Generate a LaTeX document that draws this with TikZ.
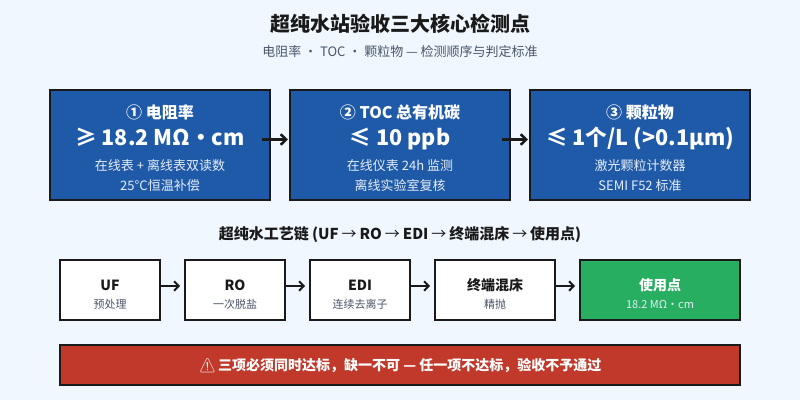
\documentclass[tikz,border=0pt]{standalone}
\usepackage{fontspec}
\setmainfont{Noto Sans CJK SC}
\newfontfamily\warnfont{Noto Emoji}
\usetikzlibrary{arrows.meta}
\definecolor{bgc}{HTML}{F0F7FF}
\definecolor{inkc}{HTML}{1A1A1A}
\definecolor{subc}{HTML}{4A5568}
\definecolor{bluec}{HTML}{1F5AA8}
\definecolor{greenc}{HTML}{27AE60}
\definecolor{redc}{HTML}{C0392B}
\definecolor{palec}{HTML}{E6EEF8}
\tikzset{
  card/.style={draw=inkc,line width=2pt,fill=bluec,minimum width=220pt,minimum height=110pt,inner sep=0pt,outer sep=0pt,anchor=north west},
  stage/.style={draw=inkc,line width=2pt,fill=white,minimum height=60pt,inner sep=0pt,outer sep=0pt,anchor=north west},
  lab/.style={inner sep=0pt,outer sep=0pt,anchor=base},
  bigarrow/.style={draw=inkc,line width=2.5pt,-{Straight Barb[length=5.5pt,width=10.5pt,line width=2.5pt]}},
  smallarrow/.style={draw=inkc,line width=2pt,-{Straight Barb[length=4.5pt,width=9.5pt,line width=2pt]}},
}
\newcommand{\fs}[1]{\fontsize{#1}{#1}\selectfont}
\newcommand{\thinarrow}{{\mdseries\kern-.5pt→\kern-.5pt}}
\begin{document}
\begin{tikzpicture}[x=1pt,y=-1pt]
\useasboundingbox (0,0) rectangle (800,400);
\fill[bgc] (0,0) rectangle (800,400);
\node[lab,text=inkc,font=\fs{20}\bfseries] (title) at (400,31) {超纯水站验收三大核心检测点};
\node[lab,text=subc,font=\fs{13}] (subtitle) at (400,56) {电阻率 ・ TOC ・ 颗粒物 — 检测顺序与判定标准};

\node[card] (c1) at (50,90) {};
\node[card] (c2) at (290,90) {};
\node[card] (c3) at (530,90) {};
\foreach \n/\x/\a/\b/\c/\d in {
 1/160/① 电阻率/≥ 18.2 MΩ・cm/在线表 + 离线表双读数/25°C恒温补偿,
 2/400/② TOC 总有机碳/≤ 10 ppb/在线仪表 24h 监测/离线实验室复核,
 3/640/③ 颗粒物/{≤ 1个/L (>0.1µm)}/激光颗粒计数器/SEMI F52 标准}{
  \node[lab,text=white,font=\fs{16}\bfseries] (ct\n) at (\x,118) {\a};
  \node[lab,text=white,font=\fs{21.6}\bfseries] (cv\n) at (\x,145) {\b};
  \node[lab,text=palec,font=\fs{13}] (cd\n) at (\x,170) {\c};
  \node[lab,text=palec,font=\fs{13}] (ce\n) at (\x,190) {\d};
}
\draw[bigarrow] ([xshift=-8pt,yshift=5.5pt]c1.east) -- ([xshift=-2pt,yshift=5.5pt]c2.west);
\draw[bigarrow] ([xshift=-8pt,yshift=5.5pt]c2.east) -- ([xshift=-2pt,yshift=5.5pt]c3.west);

\node[lab,text=inkc,font=\fs{15}\bfseries] (chain) at (400,239) {超纯水工艺链 (UF \thinarrow{} RO \thinarrow{} EDI \thinarrow{} 终端混床 \thinarrow{} 使用点)};

\node[stage,minimum width=100pt] (s1) at (60,260) {};
\node[stage,minimum width=100pt] (s2) at (185,260) {};
\node[stage,minimum width=100pt] (s3) at (310,260) {};
\node[stage,minimum width=120pt] (s4) at (435,260) {};
\node[stage,minimum width=160pt,fill=greenc] (s5) at (580,260) {};
\foreach \n/\x/\a/\b in {1/110/UF/预处理,2/235/RO/一次脱盐,3/360/EDI/连续去离子,4/495/终端混床/精抛}{
  \node[lab,text=inkc,font=\fs{14}\bfseries] (st\n) at (\x,290) {\a};
  \node[lab,text=subc,font=\fs{11}] (sd\n) at (\x,308) {\b};
}
\node[lab,text=white,font=\fs{14}\bfseries] (st5) at (660,290) {使用点};
\node[lab,text=palec,font=\fs{11}] (sd5) at (660,308) {18.2 MΩ・cm};
\draw[smallarrow] ([yshift=4pt]s1.east) -- ([xshift=-5pt,yshift=4pt]s2.west);
\draw[smallarrow] ([yshift=4pt]s2.east) -- ([xshift=-5pt,yshift=4pt]s3.west);
\draw[smallarrow] ([yshift=4pt]s3.east) -- ([xshift=-5pt,yshift=4pt]s4.west);
\draw[smallarrow] ([yshift=4pt]s4.east) -- ([xshift=-5pt,yshift=4pt]s5.west);

\node[draw=inkc,line width=2pt,fill=redc,minimum width=680pt,minimum height=40pt,inner sep=0pt,outer sep=0pt,anchor=north west] (warn) at (60,345) {};
\node[lab,text=white,font=\fs{14}\bfseries] (warntext) at (400,370) {{\warnfont ⚠}\kern-1.5pt{} 三项必须同时达标，缺一不可 — 任一项不达标，验收不予通过};
\end{tikzpicture}
\end{document}
